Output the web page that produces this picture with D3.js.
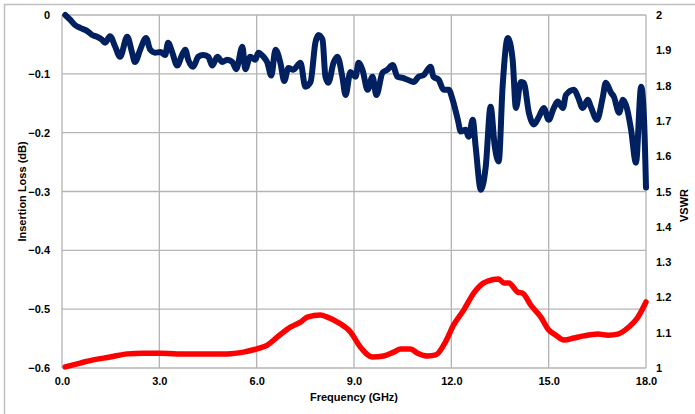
<!DOCTYPE html>
<html><head><meta charset="utf-8">
<script src="https://cdn.jsdelivr.net/npm/d3@7"></script>
<style>
html,body{margin:0;padding:0;background:#fff;}
svg{display:block;}
text{font-family:"Liberation Sans",Arial,sans-serif;font-weight:bold;fill:#000;}
</style></head>
<body>
<svg id="chart" width="695" height="414"></svg>
<script>
// ---- Data ----
const freqIL = [0.10,0.25,0.40,0.56,0.77,0.93,1.08,1.23,1.33,1.48,1.64,1.79,2.01,2.16,2.25,2.41,2.59,2.72,2.87,3.03,3.18,3.27,3.40,3.55,3.70,3.80,3.89,4.04,4.20,4.35,4.51,4.63,4.79,4.94,5.09,5.25,5.37,5.56,5.65,5.80,5.96,6.05,6.21,6.33,6.45,6.58,6.73,6.85,6.98,7.13,7.35,7.50,7.66,7.81,7.90,8.03,8.12,8.21,8.37,8.49,8.64,8.74,8.89,9.05,9.14,9.26,9.42,9.57,9.69,9.88,10.03,10.19,10.34,10.50,10.65,10.84,10.99,11.15,11.36,11.45,11.61,11.76,11.92,12.04,12.20,12.29,12.44,12.53,12.66,12.75,12.91,13.06,13.21,13.34,13.46,13.58,13.74,13.89,13.99,14.14,14.23,14.39,14.54,14.70,14.85,15.00,15.16,15.28,15.44,15.53,15.78,15.90,16.05,16.21,16.30,16.49,16.67,16.76,16.92,17.01,17.17,17.29,17.41,17.54,17.69,17.85,17.94,18.00];
const insertionLoss = [0,-0.008,-0.017,-0.022,-0.027,-0.034,-0.037,-0.042,-0.047,-0.036,-0.054,-0.071,-0.037,-0.064,-0.080,-0.059,-0.039,-0.059,-0.064,-0.063,-0.068,-0.047,-0.064,-0.086,-0.068,-0.059,-0.076,-0.088,-0.071,-0.068,-0.071,-0.086,-0.071,-0.080,-0.076,-0.080,-0.092,-0.054,-0.092,-0.071,-0.076,-0.064,-0.071,-0.081,-0.103,-0.059,-0.081,-0.112,-0.090,-0.093,-0.081,-0.122,-0.114,-0.047,-0.034,-0.042,-0.105,-0.115,-0.081,-0.071,-0.105,-0.136,-0.097,-0.105,-0.081,-0.093,-0.127,-0.105,-0.136,-0.098,-0.093,-0.085,-0.105,-0.107,-0.110,-0.114,-0.105,-0.102,-0.088,-0.105,-0.110,-0.127,-0.127,-0.144,-0.178,-0.198,-0.195,-0.207,-0.178,-0.224,-0.297,-0.258,-0.156,-0.224,-0.249,-0.122,-0.039,-0.076,-0.158,-0.114,-0.115,-0.166,-0.186,-0.173,-0.158,-0.178,-0.158,-0.147,-0.158,-0.136,-0.127,-0.139,-0.158,-0.144,-0.156,-0.178,-0.139,-0.115,-0.132,-0.139,-0.166,-0.144,-0.158,-0.195,-0.251,-0.122,-0.178,-0.293];

const freqV = [0.10,0.56,0.96,1.48,2.01,2.50,3.03,3.55,4.04,4.57,5.09,5.59,6.11,6.33,6.64,7.04,7.35,7.56,7.97,8.18,8.49,8.89,9.20,9.57,9.91,10.22,10.44,10.74,10.96,11.27,11.52,11.82,12.07,12.38,12.69,13.00,13.12,13.46,13.62,13.77,14.05,14.20,14.45,14.76,15.00,15.22,15.47,15.78,16.08,16.52,16.83,17.13,17.47,17.75,18.00];
const vswr = [1.003,1.014,1.023,1.031,1.040,1.042,1.042,1.040,1.040,1.040,1.040,1.045,1.057,1.065,1.088,1.116,1.130,1.144,1.150,1.144,1.130,1.102,1.059,1.031,1.034,1.045,1.054,1.054,1.042,1.034,1.037,1.074,1.122,1.164,1.212,1.241,1.246,1.252,1.241,1.241,1.215,1.212,1.178,1.144,1.108,1.093,1.079,1.085,1.091,1.096,1.093,1.096,1.116,1.144,1.187];

const xTicks = [0,3,6,9,12,15,18];
const leftTicks = [0,-0.1,-0.2,-0.3,-0.4,-0.5,-0.6];
const rightTicks = [2,1.9,1.8,1.7,1.6,1.5,1.4,1.3,1.2,1.1,1];

const xTitle = "Frequency (GHz)";
const leftTitle = "Insertion Loss (dB)";
const rightTitle = "VSWR";

// ---- Layout ----
const svg = d3.select("#chart");
const L = 62, R = 646, T = 15, B = 368;
const gridColor = "#b3b3b3";

// outer frame
svg.append("rect").attr("x",4.5).attr("y",4.5).attr("width",720).attr("height",440)
  .attr("fill","none").attr("stroke","#c0c0c0").attr("stroke-width",1.5);

const x = d3.scaleLinear().domain([0,18]).range([L,R]);
const yL = d3.scaleLinear().domain([-0.6,0]).range([B,T]);
const yR = d3.scaleLinear().domain([1,2]).range([B,T]);

// gridlines
const grid = svg.append("g");
grid.selectAll("line.h").data(leftTicks).join("line")
  .attr("x1",L).attr("x2",R).attr("y1",d=>yL(d)).attr("y2",d=>yL(d))
  .attr("stroke",gridColor).attr("stroke-width",1.3);
grid.selectAll("line.v").data(xTicks).join("line")
  .attr("y1",T).attr("y2",B).attr("x1",d=>x(d)).attr("x2",d=>x(d))
  .attr("stroke",gridColor).attr("stroke-width",1.3);

// axes
const fs = "11px";
const ax = svg.append("g").attr("transform",`translate(0,${B})`)
  .call(d3.axisBottom(x).tickValues(xTicks).tickFormat(d3.format(".1f")).tickSize(0).tickPadding(9));
const ayL = svg.append("g").attr("transform",`translate(${L},0)`)
  .call(d3.axisLeft(yL).tickValues(leftTicks).tickFormat(d=>d===0?"0":d3.format(".1f")(d)).tickSize(0).tickPadding(12));
const ayR = svg.append("g").attr("transform",`translate(${R},0)`)
  .call(d3.axisRight(yR).tickValues(rightTicks).tickFormat(d=>d%1===0?String(d):d3.format(".1f")(d)).tickSize(0).tickPadding(10));
[ax,ayL,ayR].forEach(g=>{
  g.select(".domain").remove();
  g.selectAll("text").attr("font-size",fs).attr("font-family","Liberation Sans, Arial, sans-serif").attr("font-weight","bold").attr("fill","#000");
});

// lines
const lineIL = d3.line().x(d=>x(d[0])).y(d=>yL(d[1])).curve(d3.curveMonotoneX);
const lineV = d3.line().x(d=>x(d[0])).y(d=>yR(d[1])).curve(d3.curveMonotoneX);

svg.append("path").datum(d3.zip(freqV,vswr)).attr("d",lineV)
  .attr("fill","none").attr("stroke","#ff0000").attr("stroke-width",5.5)
  .attr("stroke-linejoin","round").attr("stroke-linecap","round");
svg.append("path").datum(d3.zip(freqIL,insertionLoss)).attr("d",lineIL)
  .attr("fill","none").attr("stroke","#002060").attr("stroke-width",6)
  .attr("stroke-linejoin","round").attr("stroke-linecap","round");

// titles
svg.append("text").attr("x",(L+R)/2).attr("y",401).attr("text-anchor","middle")
  .attr("font-size",fs).text(xTitle);
svg.append("text").attr("transform",`translate(26,${(T+B)/2}) rotate(-90)`).attr("text-anchor","middle")
  .attr("font-size",fs).text(leftTitle);
svg.append("text").attr("transform",`translate(688,${(T+B)/2+14}) rotate(-90)`).attr("text-anchor","middle")
  .attr("font-size",fs).text(rightTitle);
</script>
</body></html>
